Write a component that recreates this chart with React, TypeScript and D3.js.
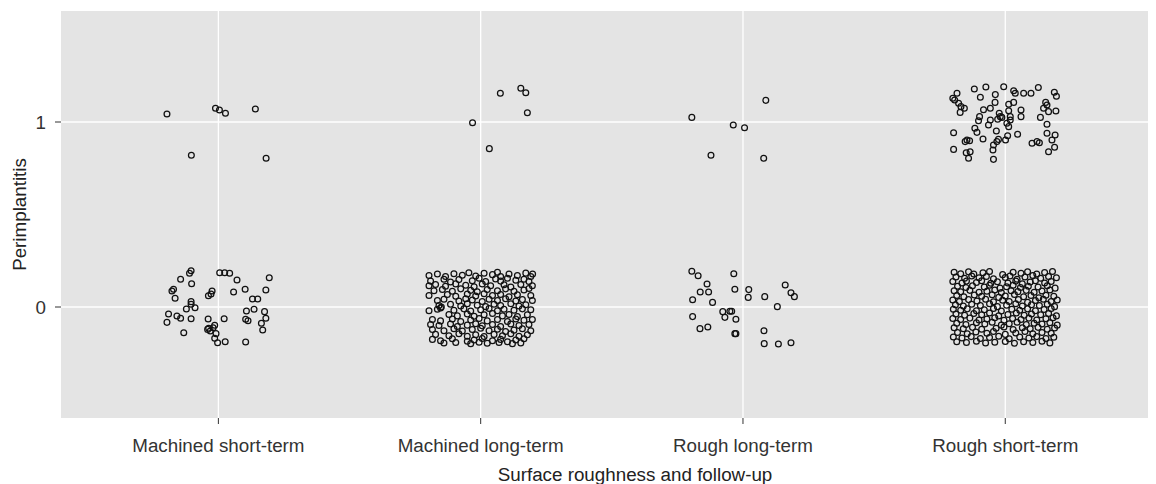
import React from "react";
import * as d3 from "d3";

// Categories along the x axis
const categories: string[] = [
  "Machined short-term",
  "Machined long-term",
  "Rough long-term",
  "Rough short-term",
];
const yTicks: number[] = [0, 1];
const xTitle = "Surface roughness and follow-up";
const yTitle = "Perimplantitis";

// Each point: [horizontal jitter (category units), jittered value]
const machinedShortTerm: [number, number][] = [
  [-0.196, 1.043], [-0.011, 1.074], [0.004, 1.065], [0.027, 1.047], [0.141, 1.07], [-0.103, 0.82], [0.182, 0.804],
  [-0.104, 0.196], [-0.11, 0.182], [-0.144, 0.15], [-0.102, 0.126], [0.005, 0.185], [0.024, 0.185], [0.043, 0.182],
  [0.071, 0.146], [0.194, 0.158], [-0.177, 0.086], [-0.171, 0.096], [-0.165, 0.047], [-0.024, 0.086], [-0.028, 0.07],
  [-0.038, 0.061], [0.058, 0.081], [0.102, 0.096], [0.181, 0.092], [0.13, 0.043], [0.15, 0.043], [-0.104, 0.029],
  [-0.104, 0.015], [-0.122, -0.011], [-0.089, -0.004], [0.107, -0.022], [0.136, -0.012], [0.176, -0.025],
  [-0.19, -0.038], [-0.158, -0.049], [-0.144, -0.061], [-0.196, -0.083], [-0.104, -0.063], [-0.039, -0.065],
  [0.022, -0.063], [0.104, -0.066], [0.113, -0.074], [0.181, -0.061], [0.164, -0.088], [0.169, -0.124],
  [-0.014, -0.099], [-0.02, -0.112], [-0.037, -0.115], [-0.031, -0.13], [-0.009, -0.144], [-0.014, -0.169],
  [-0.003, -0.193], [0.026, -0.188], [0.104, -0.189], [-0.132, -0.139], [-0.041, -0.121],
];

const machinedLongTerm: [number, number][] = [
  [0.075, 1.155], [0.153, 1.182], [0.172, 1.158], [0.178, 1.05], [-0.031, 0.996], [0.033, 0.856],
  [-0.197, 0.17], [-0.165, 0.178], [-0.134, 0.165], [-0.102, 0.18], [-0.07, 0.172], [-0.045, 0.185], [-0.019, 0.168],
  [0.013, 0.182], [0.045, 0.175], [0.064, 0.188], [0.076, 0.165], [0.108, 0.178], [0.14, 0.17], [0.172, 0.183],
  [0.191, 0.165], [0.198, 0.178],
  [-0.191, 0.14], [-0.14, 0.15], [-0.115, 0.135], [-0.083, 0.148], [-0.032, 0.142], [-0.006, 0.155], [0.019, 0.138],
  [0.057, 0.152], [0.076, 0.14], [0.102, 0.155], [0.134, 0.145], [0.165, 0.15], [0.184, 0.138],
  [-0.197, 0.115], [-0.172, 0.122], [-0.134, 0.112], [-0.095, 0.125], [-0.057, 0.118], [-0.025, 0.11], [0.006, 0.124],
  [0.038, 0.115], [0.089, 0.12], [0.115, 0.108], [0.153, 0.122], [0.197, 0.115],
  [-0.178, 0.088], [-0.146, 0.095], [-0.108, 0.085], [-0.076, 0.098], [-0.038, 0.09], [-0.013, 0.082], [0.025, 0.095],
  [0.064, 0.088], [0.095, 0.098], [0.127, 0.085], [0.165, 0.092], [0.184, 0.1],
  [-0.197, 0.062], [-0.127, 0.068], [-0.095, 0.058], [-0.051, 0.07], [-0.019, 0.06], [0.013, 0.072], [0.045, 0.062],
  [0.076, 0.068], [0.108, 0.055], [0.14, 0.066], [0.191, 0.062],
  [-0.165, 0.035], [-0.14, 0.042], [-0.083, 0.032], [-0.057, 0.045], [-0.032, 0.038], [0.006, 0.03], [0.032, 0.042],
  [0.064, 0.035], [0.095, 0.045], [0.134, 0.032], [0.159, 0.04], [0.197, 0.035],
  [-0.159, 0.008], [-0.115, 0.015], [-0.076, 0.005], [-0.051, 0.018], [-0.013, 0.01], [0.019, 0.002], [0.051, 0.015],
  [0.076, 0.008], [0.115, 0.018], [0.146, 0.005], [0.172, 0.012],
  [-0.197, -0.02], [-0.165, -0.012], [-0.153, -0.005], [-0.15, 0.0], [-0.102, -0.018], [-0.064, -0.01], [-0.038, -0.022],
  [0.0, -0.015], [0.032, -0.008], [0.064, -0.02], [0.089, -0.012], [0.127, -0.018], [0.159, -0.01], [0.191, -0.015],
  [-0.121, -0.04], [-0.089, -0.048], [-0.051, -0.038], [-0.025, -0.05], [0.013, -0.042], [0.045, -0.035], [0.083, -0.048],
  [0.108, -0.04], [0.14, -0.052], [0.178, -0.042],
  [-0.184, -0.068], [-0.153, -0.075], [-0.108, -0.065], [-0.076, -0.078], [-0.038, -0.07], [-0.006, -0.062], [0.025, -0.075],
  [0.064, -0.068], [0.102, -0.078], [0.134, -0.065], [0.165, -0.072], [0.197, -0.068],
  [-0.191, -0.095], [-0.159, -0.1], [-0.115, -0.092], [-0.089, -0.105], [-0.051, -0.098], [-0.019, -0.09], [0.006, -0.102],
  [0.045, -0.095], [0.076, -0.105], [0.115, -0.092], [0.146, -0.1], [0.184, -0.095],
  [-0.184, -0.122], [-0.14, -0.128], [-0.102, -0.118], [-0.07, -0.13], [-0.032, -0.122], [0.0, -0.115], [0.032, -0.128],
  [0.064, -0.12], [0.095, -0.132], [0.127, -0.125], [0.159, -0.118], [0.191, -0.128],
  [-0.172, -0.148], [-0.121, -0.155], [-0.083, -0.145], [-0.051, -0.158], [-0.019, -0.15], [0.013, -0.16], [0.051, -0.148],
  [0.083, -0.155], [0.115, -0.145], [0.146, -0.158], [0.178, -0.15],
  [-0.184, -0.175], [-0.153, -0.182], [-0.108, -0.172], [-0.051, -0.185], [-0.025, -0.178], [0.006, -0.17], [0.045, -0.182],
  [0.076, -0.175], [0.102, -0.188], [0.134, -0.178], [0.165, -0.172],
  [-0.14, -0.195], [-0.095, -0.192], [-0.038, -0.198], [-0.006, -0.19], [0.025, -0.196], [0.07, -0.192], [0.121, -0.198],
  [0.153, -0.194],
];

const roughLongTerm: [number, number][] = [
  [0.087, 1.117], [-0.195, 1.025], [-0.037, 0.984], [0.006, 0.969], [-0.122, 0.82], [0.079, 0.804],
  [-0.195, 0.193], [-0.171, 0.169], [-0.035, 0.18], [-0.137, 0.124], [-0.163, 0.081], [-0.131, 0.081], [-0.192, 0.039],
  [-0.116, 0.025], [-0.031, 0.096], [0.022, 0.094], [0.02, 0.052], [0.083, 0.056], [0.161, 0.119], [0.183, 0.077],
  [0.196, 0.056], [0.131, 0.002], [-0.077, -0.025], [-0.05, -0.023], [-0.043, -0.023], [-0.069, -0.056],
  [-0.027, -0.066], [-0.192, -0.052], [-0.164, -0.117], [-0.134, -0.108], [-0.031, -0.144], [-0.027, -0.144],
  [0.08, -0.128], [0.081, -0.198], [0.135, -0.2], [0.183, -0.193],
];

const roughShortTerm: [number, number][] = [
  [-0.2, 1.128], [-0.193, 1.119], [-0.184, 1.155], [-0.178, 1.101], [-0.169, 1.083], [-0.172, 1.052], [-0.156, 1.074],
  [-0.118, 1.178], [-0.074, 1.189], [-0.095, 1.134], [-0.038, 1.148], [-0.039, 1.106], [-0.057, 1.074], [-0.083, 1.066],
  [-0.006, 1.191], [0.032, 1.169], [0.038, 1.155], [0.07, 1.155], [0.098, 1.155], [0.126, 1.186], [0.187, 1.161],
  [0.195, 1.139], [0.154, 1.106], [0.159, 1.092], [0.146, 1.074], [0.165, 1.056], [0.193, 1.059], [0.134, 1.025],
  [0.013, 1.096], [0.013, 1.061], [0.032, 1.106], [0.06, 1.065], [0.06, 1.029], [-0.023, 1.047], [-0.019, 1.029],
  [-0.029, 1.015], [-0.057, 1.011], [-0.064, 0.984], [-0.098, 1.029], [-0.102, 1.007], [-0.116, 0.966], [-0.108, 0.944],
  [-0.085, 0.908], [-0.034, 0.951], [0.006, 0.993], [0.013, 0.975], [0.009, 0.926], [0.047, 0.934], [-0.026, 0.906],
  [-0.032, 0.894], [-0.045, 0.876], [-0.047, 0.849], [-0.045, 0.798], [0.001, 0.903], [-0.146, 0.903], [-0.136, 0.899],
  [-0.153, 0.894], [-0.197, 0.942], [-0.197, 0.852], [-0.149, 0.834], [-0.134, 0.839], [-0.14, 0.804], [0.159, 0.988],
  [0.159, 0.939], [0.19, 0.93], [0.178, 0.903], [0.13, 0.888], [0.121, 0.894], [0.102, 0.885], [0.188, 0.863],
  [0.165, 0.839], [0.019, 1.029], [0.019, 1.011], [-0.013, 1.025],
  [-0.195, 0.188], [-0.17, 0.18], [-0.14, 0.19], [-0.12, 0.178], [-0.085, 0.185], [-0.06, 0.192], [-0.01, 0.175],
  [0.03, 0.188], [0.06, 0.182], [0.085, 0.19], [0.12, 0.178], [0.15, 0.186], [0.18, 0.192],
  [-0.188, 0.162], [-0.155, 0.155], [-0.128, 0.168], [-0.1, 0.158], [-0.072, 0.165], [-0.045, 0.152], [0.0, 0.16],
  [0.018, 0.168], [0.045, 0.15], [0.075, 0.162], [0.105, 0.17], [0.135, 0.155], [0.165, 0.165], [0.195, 0.158],
  [-0.2, 0.138], [-0.165, 0.13], [-0.148, 0.14], [-0.11, 0.132], [-0.09, 0.142], [-0.055, 0.128], [-0.03, 0.136],
  [0.01, 0.13], [0.04, 0.14], [0.065, 0.125], [0.095, 0.135], [0.115, 0.142], [0.15, 0.13], [0.175, 0.138],
  [-0.182, 0.112], [-0.15, 0.105], [-0.125, 0.115], [-0.08, 0.108], [-0.06, 0.118], [-0.02, 0.102], [0.005, 0.11],
  [0.03, 0.118], [0.058, 0.105], [0.088, 0.112], [0.125, 0.108], [0.16, 0.115], [0.19, 0.102],
  [-0.195, 0.088], [-0.17, 0.082], [-0.135, 0.09], [-0.1, 0.08], [-0.07, 0.085], [-0.04, 0.092], [-0.015, 0.078],
  [0.022, 0.088], [0.048, 0.083], [0.08, 0.09], [0.11, 0.08], [0.14, 0.086], [0.17, 0.092],
  [-0.185, 0.062], [-0.158, 0.055], [-0.118, 0.065], [-0.09, 0.058], [-0.05, 0.066], [-0.025, 0.052], [0.0, 0.06],
  [0.035, 0.068], [0.07, 0.055], [0.098, 0.062], [0.128, 0.05], [0.155, 0.064], [0.185, 0.058],
  [-0.2, 0.038], [-0.175, 0.03], [-0.14, 0.04], [-0.108, 0.032], [-0.075, 0.042], [-0.045, 0.028], [-0.01, 0.036],
  [0.015, 0.03], [0.05, 0.04], [0.085, 0.025], [0.115, 0.035], [0.145, 0.042], [0.175, 0.03], [0.198, 0.038],
  [-0.19, 0.012], [-0.16, 0.005], [-0.128, 0.015], [-0.095, 0.008], [-0.06, 0.018], [-0.03, 0.002], [0.005, 0.01],
  [0.04, 0.018], [0.065, 0.005], [0.1, 0.012], [0.13, 0.008], [0.16, 0.015], [0.188, 0.002],
  [-0.198, -0.012], [-0.17, -0.018], [-0.145, -0.01], [-0.11, -0.02], [-0.08, -0.015], [-0.045, -0.008], [-0.015, -0.022],
  [0.025, -0.012], [0.055, -0.018], [0.085, -0.01], [0.115, -0.02], [0.148, -0.014], [0.175, -0.008],
  [-0.188, -0.038], [-0.155, -0.045], [-0.12, -0.035], [-0.09, -0.042], [-0.06, -0.032], [-0.025, -0.048], [0.01, -0.04],
  [0.042, -0.032], [0.072, -0.045], [0.1, -0.038], [0.135, -0.042], [0.165, -0.035], [0.195, -0.048],
  [-0.2, -0.062], [-0.17, -0.068], [-0.135, -0.06], [-0.1, -0.07], [-0.07, -0.065], [-0.04, -0.058], [-0.005, -0.072],
  [0.028, -0.062], [0.06, -0.068], [0.09, -0.06], [0.12, -0.07], [0.155, -0.064], [0.182, -0.058],
  [-0.185, -0.088], [-0.15, -0.095], [-0.11, -0.085], [-0.078, -0.092], [-0.05, -0.082], [-0.015, -0.098], [0.015, -0.09],
  [0.045, -0.082], [0.08, -0.095], [0.11, -0.088], [0.14, -0.092], [0.17, -0.085], [0.198, -0.098],
  [-0.195, -0.112], [-0.16, -0.118], [-0.125, -0.11], [-0.09, -0.12], [-0.035, -0.115], [-0.005, -0.108], [0.03, -0.122],
  [0.065, -0.112], [0.095, -0.118], [0.125, -0.11], [0.16, -0.12], [0.188, -0.114],
  [-0.182, -0.138], [-0.145, -0.145], [-0.112, -0.135], [-0.07, -0.142], [-0.045, -0.132], [0.0, -0.148], [0.04, -0.14],
  [0.075, -0.132], [0.105, -0.145], [0.14, -0.138], [0.175, -0.142],
  [-0.198, -0.162], [-0.165, -0.168], [-0.13, -0.16], [-0.095, -0.17], [-0.06, -0.165], [-0.025, -0.158], [0.015, -0.172],
  [0.055, -0.162], [0.09, -0.168], [0.12, -0.16], [0.155, -0.17], [0.185, -0.164],
  [-0.185, -0.188], [-0.148, -0.192], [-0.11, -0.185], [-0.075, -0.195], [-0.04, -0.19], [0.0, -0.186], [0.035, -0.196],
  [0.07, -0.188], [0.105, -0.192], [0.14, -0.185], [0.17, -0.194],
];

const seriesByCategory: [number, number][][] = [
  machinedShortTerm,
  machinedLongTerm,
  roughLongTerm,
  roughShortTerm,
];

const W = 1156;
const H = 484;
const panel = { left: 61, right: 1148, top: 11, bottom: 418 };
const font = "'Liberation Sans', Arial, Helvetica, sans-serif";
const fs = 18.8;

export default function App() {
  const x = d3.scaleLinear().domain([0.4, 4.6]).range([panel.left, panel.left + 4.2 * 262.3]);
  const y = d3.scaleLinear().domain([-0.6, 1.6]).range([panel.bottom, panel.top]);

  return (
    <svg
      width={W}
      height={H}
      viewBox={`0 0 ${W} ${H}`}
      style={{ position: "absolute", left: 0, top: 0, background: "#fff" }}
    >
      <rect
        x={panel.left}
        y={panel.top}
        width={panel.right - panel.left}
        height={panel.bottom - panel.top}
        fill="#e4e4e4"
      />
      {yTicks.map((t) => (
        <line key={"gy" + t} x1={panel.left} x2={panel.right} y1={y(t)} y2={y(t)} stroke="#fff" strokeWidth={1.3} />
      ))}
      {categories.map((c, i) => (
        <line key={"gx" + c} x1={x(i + 1)} x2={x(i + 1)} y1={panel.top} y2={panel.bottom} stroke="#fff" strokeWidth={1.3} />
      ))}
      <g fill="none" stroke="#111" strokeWidth={1.25}>
        {seriesByCategory.map((pts, i) =>
          pts.map(([dx, v], j) => <circle key={i + "-" + j} cx={x(i + 1 + dx)} cy={y(v)} r={2.9} />)
        )}
      </g>
      {yTicks.map((t) => (
        <g key={"ty" + t}>
          <line x1={panel.left - 6} x2={panel.left} y1={y(t)} y2={y(t)} stroke="#333" strokeWidth={1} />
          <text
            x={panel.left - 15}
            y={y(t)}
            dy="0.36em"
            textAnchor="end"
            fontFamily={font}
            fontSize={fs}
            fill="#333"
          >
            {t}
          </text>
        </g>
      ))}
      {categories.map((c, i) => (
        <g key={"tx" + c}>
          <line x1={x(i + 1)} x2={x(i + 1)} y1={panel.bottom} y2={panel.bottom + 6} stroke="#333" strokeWidth={1} />
          <text x={x(i + 1)} y={452} textAnchor="middle" fontFamily={font} fontSize={fs} fill="#333">
            {c}
          </text>
        </g>
      ))}
      <text x={635} y={481} textAnchor="middle" fontFamily={font} fontSize={fs} fill="#222">
        {xTitle}
      </text>
      <text
        transform={`translate(26, ${(panel.top + panel.bottom) / 2}) rotate(-90)`}
        textAnchor="middle"
        fontFamily={font}
        fontSize={fs}
        fill="#222"
      >
        {yTitle}
      </text>
    </svg>
  );
}
